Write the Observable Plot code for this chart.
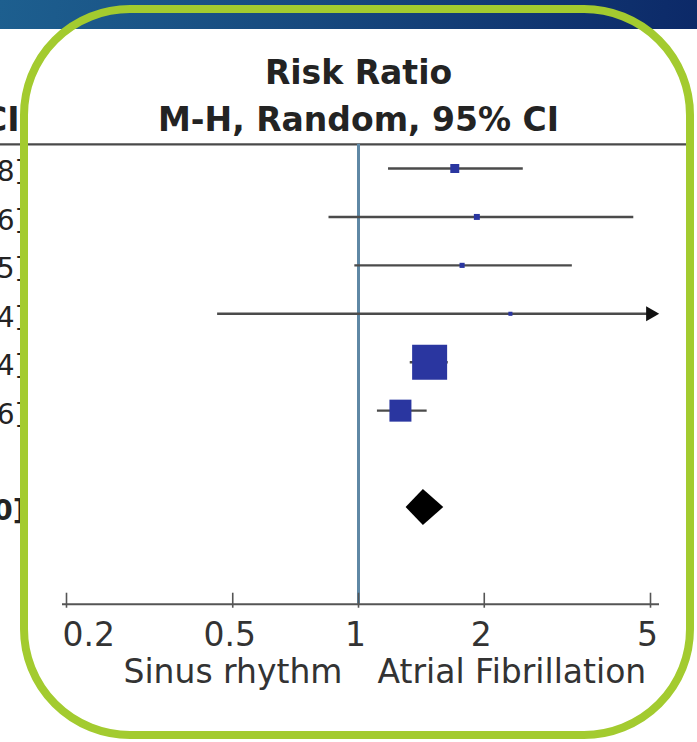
<!DOCTYPE html>
<html>
<head>
<meta charset="utf-8">
<script src="https://cdn.jsdelivr.net/npm/d3@7"></script>
<script src="https://cdn.jsdelivr.net/npm/@observablehq/plot@0.6"></script>
<style>
  html, body { margin: 0; padding: 0; background: #ffffff; }
  #wrap { position: relative; width: 697px; height: 742px; overflow: hidden; background: #ffffff; }
  #band { position: absolute; left: 0; top: 0; width: 697px; height: 29px;
          background: linear-gradient(100deg, #1d5f8f 0%, #17497e 45%, #0c2968 100%); }
  #frame { position: absolute; left: 20px; top: 5px; width: 674px; height: 734px; box-sizing: border-box;
           border: 8px solid #a3cb2f; border-radius: 110px; pointer-events: none; }
  #chart { position: absolute; left: 0; top: 0; }
</style>
</head>
<body>
<div id="wrap"><div id="chart"></div><div id="band"></div><div id="frame"></div></div>
<script>
// ---- data ----
const studyRow   = [1, 2, 3, 4, 5, 6];
const riskRatio  = [1.70, 1.92, 1.77, 2.31, 1.48, 1.26];
const ciLower    = [1.18, 0.85, 0.98, 0.46, 1.33, 1.11];
const ciUpper    = [2.48, 4.56, 3.25, 11.64, 1.64, 1.46];
const weightPct  = [4.3, 1.9, 1.4, 0.9, 65.6, 25.9];
const totalRow   = 8;
const totalRR    = 1.43;
const totalLower = 1.30;
const totalUpper = 1.60;
const tickValues = [0.2, 0.5, 1, 2, 5];
const tickLabels = ["0.2", "0.5", "1", "2", "5"];
const xDomain    = [0.2, 5];
const titleLine1 = "Risk Ratio";
const titleLine2 = "M-H, Random, 95% CI";
const favoursLeft  = "Sinus rhythm";
const favoursRight = "Atrial Fibrillation";
const headerRow = 0;
const ruleRow = 0.5;
const axisRow = 10;

const fmt = v => v.toFixed(2);
const studies = studyRow.map((row, i) => ({
  row, rr: riskRatio[i], lo: ciLower[i], hi: ciUpper[i], w: weightPct[i],
  hiDrawn: Math.min(ciUpper[i], xDomain[1]),
  label: `${fmt(riskRatio[i])} [${fmt(ciLower[i])}, ${fmt(ciUpper[i])}]`
}));
const clipped = studies.filter(d => d.hi > xDomain[1]);
const total = [{row: totalRow, label: `${fmt(totalRR)} [${fmt(totalLower)}, ${fmt(totalUpper)}]`}];
const diamondHalf = 0.37; // half height in row units
const diamond = [
  {x: totalLower, y1: totalRow, y2: totalRow},
  {x: totalRR, y1: totalRow - diamondHalf, y2: totalRow + diamondHalf},
  {x: totalUpper, y1: totalRow, y2: totalRow}
];
const ticks = tickValues.map((v, i) => ({v, label: tickLabels[i]}));

const ink = "#232323";
const chart = Plot.plot({
  width: 697,
  height: 742,
  margin: 0,
  style: {fontFamily: "DejaVu Sans", background: "transparent", color: ink},
  x: {type: "log", domain: xDomain, range: [66, 650], axis: null},
  y: {domain: [1, 8], range: [168, 507], axis: null},
  r: {type: "sqrt", domain: [0, d3.max(weightPct)], range: [0, 19.75]},
  marks: [
    // header texts
    Plot.text([titleLine1], {y: headerRow, x: 1, text: d => d, dy: -36, lineAnchor: "bottom", fontSize: 33, fontWeight: "bold", fill: ink}),
    Plot.text([titleLine2], {y: headerRow, x: 1, text: d => d, dy: 11, lineAnchor: "bottom", fontSize: 33, fontWeight: "bold", fill: ink}),
    // left (cropped) CI column
    Plot.text([titleLine2], {y: headerRow, frameAnchor: "left", text: d => d, dx: 19, dy: 11, textAnchor: "end", lineAnchor: "bottom", fontSize: 33, fontWeight: "bold", fill: ink}),
    Plot.text(studies, {y: "row", frameAnchor: "left", text: "label", dx: 25, dy: 4, textAnchor: "end", fontSize: 28, fill: ink}),
    Plot.text(total, {y: "row", frameAnchor: "left", text: "label", dx: 25, dy: 4, textAnchor: "end", fontSize: 28, fontWeight: "bold", fill: ink}),
    // header rule
    Plot.ruleY([ruleRow], {stroke: "#4a4a4a", strokeWidth: 2.2, insetRight: 8}),
    // line of no effect
    Plot.ruleX([1], {y1: ruleRow, y2: axisRow, stroke: "#5f88a5", strokeWidth: 3}),
    // confidence intervals
    Plot.ruleY(studies, {y: "row", x1: "lo", x2: "hiDrawn", stroke: "#4b4b4b", strokeWidth: 2.4}),
    Plot.dot(clipped, {x: () => xDomain[1], y: "row", symbol: "triangle2", rotate: 90, r: 7.2, fill: "#111111"}),
    // study boxes
    Plot.dot(studies, {x: "rr", y: "row", r: "w", symbol: "square", fill: "#2a36a0"}),
    // pooled diamond
    Plot.areaY(diamond, {x: "x", y1: "y1", y2: "y2", fill: "#000000"}),
    // x axis
    Plot.ruleY([axisRow], {x1: xDomain[0], x2: xDomain[1], insetLeft: -4, insetRight: -9, stroke: "#555555", strokeWidth: 2}),
    Plot.ruleX(tickValues, {x: d => d, y1: axisRow - 0.23, y2: axisRow + 0.08, stroke: "#555555", strokeWidth: 1.6}),
    Plot.text(ticks.slice(0, 1), {x: "v", y: () => axisRow, text: "label", dx: -4, dy: 31, textAnchor: "start", fontSize: 33, fill: "#333333"}),
    Plot.text(ticks.slice(1), {x: "v", y: () => axisRow, text: "label", dx: -3, dy: 31, fontSize: 33, fill: "#333333"}),
    Plot.text([favoursLeft], {x: 1, y: axisRow, text: d => d, dx: -16, dy: 79, textAnchor: "end", lineAnchor: "bottom", fontSize: 33, fill: "#333333"}),
    Plot.text([favoursRight], {x: 1, y: axisRow, text: d => d, dx: 19, dy: 79, textAnchor: "start", lineAnchor: "bottom", fontSize: 33, fill: "#333333"})
  ]
});
document.getElementById("chart").appendChild(chart);
</script>
</body>
</html>
